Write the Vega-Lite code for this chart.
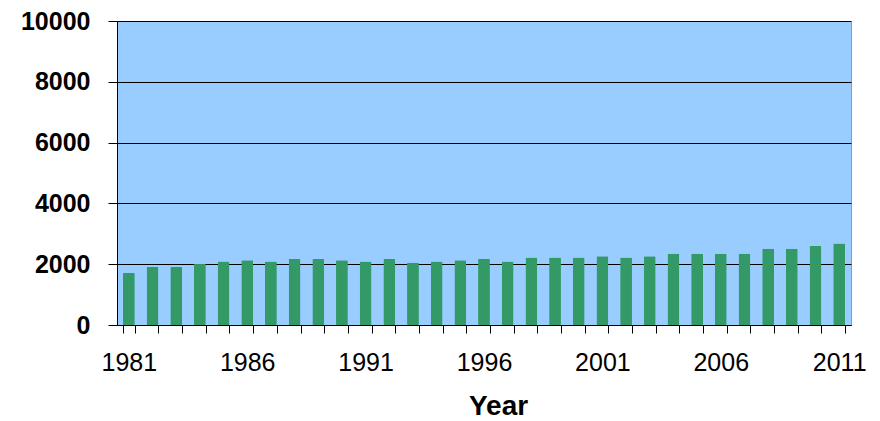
{
  "$schema": "https://vega.github.io/schema/vega-lite/v6.json",
  "width": 734,
  "height": 304,
  "autosize": {"type": "none"},
  "padding": {"left": 117, "top": 21, "right": 29, "bottom": 96},
  "background": "white",
  "config": {
    "view": {"fill": "#99CCFF", "stroke": "#999999", "strokeWidth": 1},
    "font": "Liberation Sans"
  },
  "data": {
    "values": [
      {"year": 1981, "value": 1710},
      {"year": 1982, "value": 1910},
      {"year": 1983, "value": 1910},
      {"year": 1984, "value": 2010},
      {"year": 1985, "value": 2090},
      {"year": 1986, "value": 2130},
      {"year": 1987, "value": 2090},
      {"year": 1988, "value": 2170},
      {"year": 1989, "value": 2170},
      {"year": 1990, "value": 2130},
      {"year": 1991, "value": 2090},
      {"year": 1992, "value": 2170},
      {"year": 1993, "value": 2050},
      {"year": 1994, "value": 2090},
      {"year": 1995, "value": 2130},
      {"year": 1996, "value": 2170},
      {"year": 1997, "value": 2090},
      {"year": 1998, "value": 2220},
      {"year": 1999, "value": 2220},
      {"year": 2000, "value": 2220},
      {"year": 2001, "value": 2260},
      {"year": 2002, "value": 2220},
      {"year": 2003, "value": 2260},
      {"year": 2004, "value": 2340},
      {"year": 2005, "value": 2340},
      {"year": 2006, "value": 2340},
      {"year": 2007, "value": 2340},
      {"year": 2008, "value": 2510},
      {"year": 2009, "value": 2510},
      {"year": 2010, "value": 2600},
      {"year": 2011, "value": 2680}
    ]
  },
  "mark": {"type": "bar", "color": "#339966", "cornerRadius": 1},
  "encoding": {
    "x": {
      "field": "year",
      "type": "ordinal",
      "scale": {"paddingInner": 0.5, "paddingOuter": 0.25},
      "axis": {
        "title": "Year",
        "titleFont": "Liberation Sans",
        "titleFontSize": 28,
        "titleFontWeight": "bold",
        "titleColor": "#000000",
        "titleBaseline": "alphabetic",
        "titleX": 381,
        "titleY": 89,
        "titleAlign": "center",
        "labelAngle": 0,
        "labelFont": "Liberation Sans",
        "labelFontSize": 25,
        "labelColor": "#000000",
        "labelPadding": 17,
        "labelOverlap": false,
        "labelExpr": "(+datum.value - 1981) % 5 == 0 ? datum.label : ''",
        "tickBand": "extent",
        "tickSize": 8,
        "tickColor": "#000000",
        "domainColor": "#000000",
        "domainWidth": 1,
        "grid": false
      }
    },
    "y": {
      "field": "value",
      "type": "quantitative",
      "scale": {"domain": [0, 10000]},
      "axis": {
        "title": null,
        "values": [0, 2000, 4000, 6000, 8000, 10000],
        "format": "d",
        "labelFont": "Liberation Sans",
        "labelFontSize": 25,
        "labelFontWeight": "bold",
        "labelColor": "#000000",
        "labelPadding": 18,
        "tickSize": 9,
        "tickColor": "#000000",
        "domainColor": "#000000",
        "domainWidth": 1,
        "grid": true,
        "gridColor": "#000000",
        "gridWidth": 1
      }
    }
  }
}
